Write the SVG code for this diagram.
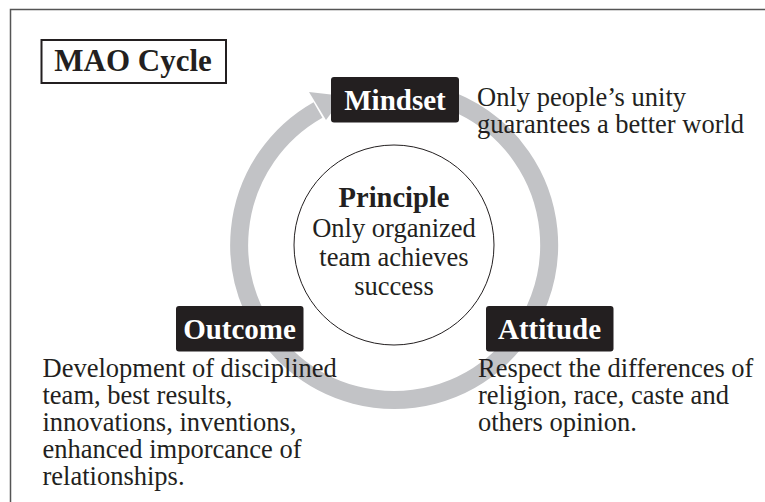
<svg xmlns="http://www.w3.org/2000/svg" width="765" height="502" viewBox="0 0 765 502">
  <style>
    .body { font-family: "Liberation Serif", "Times New Roman", serif; font-size: 26.5px; fill: #231f20; }
    .lbl { font-family: "Liberation Serif", "Times New Roman", serif; font-size: 29px; font-weight: bold; fill: #ffffff; text-anchor: middle; }
    .box { fill: #231f20; }
    .ring { fill: none; stroke: #c2c3c6; stroke-width: 18; }
  </style>
  <rect x="0" y="0" width="765" height="502" fill="#ffffff"/>
  <rect x="10.5" y="9.5" width="900" height="700" fill="none" stroke="#555555" stroke-width="1.5"/>

  <g id="title">
    <rect x="41.5" y="40" width="184.5" height="43" fill="#ffffff" stroke="#231f20" stroke-width="2"/>
    <text x="133" y="70.5" font-family="Liberation Serif, Times New Roman, serif" font-size="31" font-weight="bold" fill="#231f20" text-anchor="middle">MAO Cycle</text>
  </g>

  <g id="connectors">
    <path class="ring" d="M 394.5 90 A 155 155 0 1 1 318 110"/>
    <polygon points="309,92 344,96 326,120" fill="#c2c3c6"/>
  </g>

  <g id="principle">
    <circle cx="394" cy="245" r="100" fill="#ffffff" stroke="#231f20" stroke-width="1"/>
    <text x="394" y="207" font-family="Liberation Serif, Times New Roman, serif" font-size="28.5" font-weight="bold" fill="#231f20" text-anchor="middle">Principle</text>
    <text class="body" x="394" y="237" text-anchor="middle">Only organized</text>
    <text class="body" x="394" y="266" text-anchor="middle">team achieves</text>
    <text class="body" x="394" y="295" text-anchor="middle">success</text>
  </g>

  <g id="mindset">
    <rect class="box" x="331" y="77" width="128" height="45.5" rx="3"/>
    <text class="lbl" x="395" y="109.5">Mindset</text>
  </g>
  <g id="mindset-text">
    <text class="body" x="477" y="105.5">Only people’s unity</text>
    <text class="body" x="477" y="132.5">guarantees a better world</text>
  </g>

  <g id="outcome">
    <rect class="box" x="176" y="306" width="127.5" height="45.5" rx="3"/>
    <text class="lbl" x="239.5" y="338.5">Outcome</text>
  </g>
  <g id="outcome-text">
    <text class="body" x="42.5" y="377">Development of disciplined</text>
    <text class="body" x="42.5" y="404">team, best results,</text>
    <text class="body" x="42.5" y="431">innovations, inventions,</text>
    <text class="body" x="42.5" y="458">enhanced imporcance of</text>
    <text class="body" x="42.5" y="485">relationships.</text>
  </g>

  <g id="attitude">
    <rect class="box" x="486" y="306" width="127.5" height="45.5" rx="3"/>
    <text class="lbl" x="549.5" y="338.5">Attitude</text>
  </g>
  <g id="attitude-text">
    <text class="body" x="478" y="377">Respect the differences of</text>
    <text class="body" x="478" y="404">religion, race, caste and</text>
    <text class="body" x="478" y="431">others opinion.</text>
  </g>
</svg>
